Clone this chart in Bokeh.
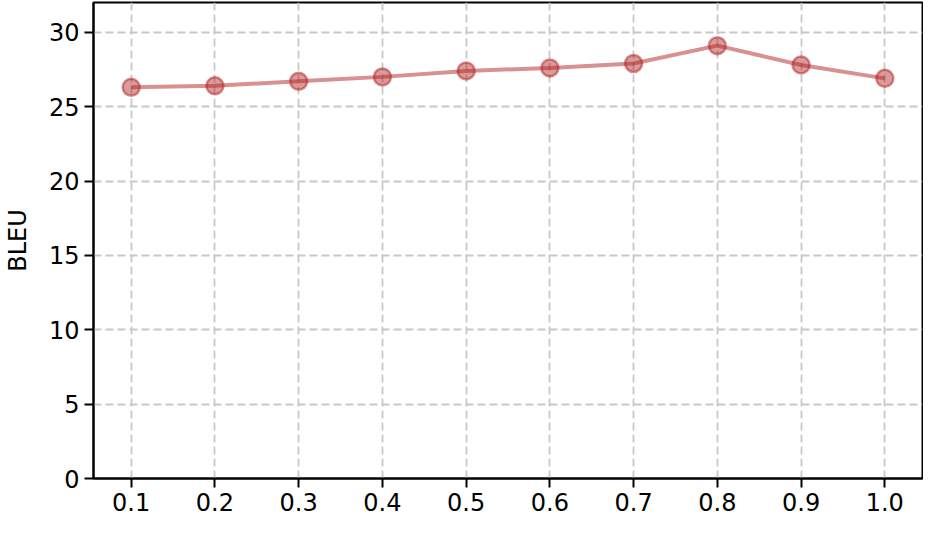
from bokeh.plotting import figure
from bokeh.embed import file_html
from bokeh.resources import INLINE
from bokeh.models import FixedTicker, Range1d

ratios = [0.1, 0.2, 0.3, 0.4, 0.5, 0.6, 0.7, 0.8, 0.9, 1.0]
bleu = [26.3, 26.4, 26.7, 27.0, 27.4, 27.6, 27.9, 29.1, 27.8, 26.9]
x_ticks = [0.1, 0.2, 0.3, 0.4, 0.5, 0.6, 0.7, 0.8, 0.9, 1.0]
y_ticks = [0, 5, 10, 15, 20, 25, 30]

p = figure(width=923, height=522, output_backend="svg", toolbar_location=None,
           x_range=Range1d(0.055, 1.045), y_range=Range1d(0, 32),
           min_border_left=93, min_border_right=1, min_border_top=2, min_border_bottom=44)

color = "#b22222"
p.line(ratios, bleu, line_color=color, line_alpha=0.5, line_width=4)
p.scatter(ratios, bleu, size=17, fill_color=color, fill_alpha=0.45,
          line_color=color, line_alpha=0.5, line_width=2.5)

p.xaxis.ticker = FixedTicker(ticks=x_ticks)
p.yaxis.ticker = FixedTicker(ticks=y_ticks)
p.xaxis.major_label_overrides = {t: f"{t:.1f}" for t in x_ticks}
p.yaxis.axis_label = "BLEU"
p.yaxis.axis_label_standoff = 14

for ax in (p.xaxis, p.yaxis):
    ax.major_label_text_font = "DejaVu Sans"
    ax.major_label_text_font_size = "24px"
    ax.major_label_text_color = "black"
    ax.major_label_standoff = 5
    ax.axis_label_text_font = "DejaVu Sans"
    ax.axis_label_text_font_size = "24px"
    ax.axis_label_text_font_style = "normal"
    ax.axis_label_text_color = "black"
    ax.minor_tick_line_color = None
    ax.major_tick_in = 0
    ax.major_tick_out = 9
    ax.major_tick_line_color = "black"
    ax.axis_line_color = "black"
    ax.axis_line_width = 2
    ax.major_tick_line_width = 2

p.grid.grid_line_color = "#c8c8c8"
p.grid.grid_line_dash = "8 4"
p.grid.grid_line_width = 1.8
p.outline_line_color = "black"
p.outline_line_width = 2
p.outline_line_alpha = 1.0

open("out.html", "w").write(file_html(p, INLINE))
